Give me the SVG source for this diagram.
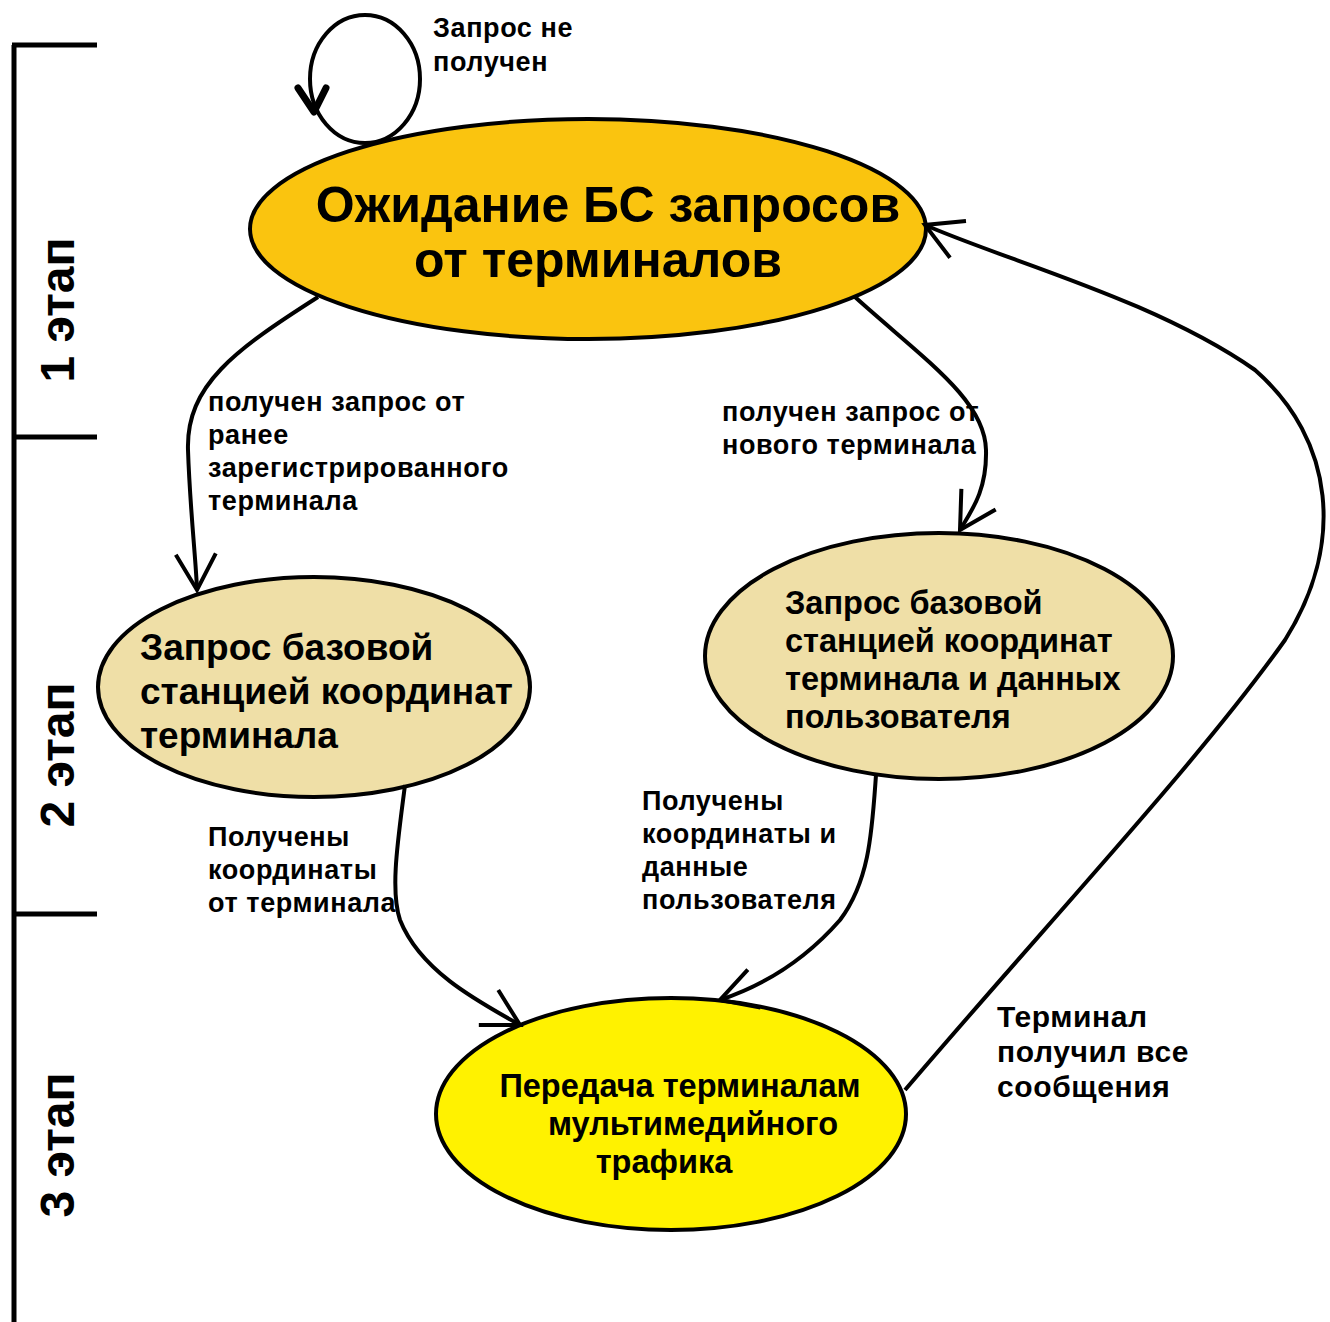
<svg xmlns="http://www.w3.org/2000/svg" width="1330" height="1322" viewBox="0 0 1330 1322">
<style>
text{font-family:"Liberation Sans",Arial,sans-serif;font-weight:bold;fill:#000}
.node{stroke:#000;stroke-width:4}
.conn{fill:none;stroke:#000;stroke-width:4}
.lbl{font-size:27px;letter-spacing:0.6px}
.lbl2{font-size:30px;letter-spacing:0.6px}
.stage{font-size:48px}
.bar{stroke:#000;stroke-width:5;fill:none}
</style>
<defs>
<marker id="arr" viewBox="-45 -30 50 60" refX="0" refY="0" markerWidth="50" markerHeight="60" markerUnits="userSpaceOnUse" orient="auto">
<path d="M-36,-20 L0,0 L-36,20" fill="none" stroke="#000" stroke-width="4"/>
</marker>
</defs>
<rect width="1330" height="1322" fill="#fff"/>
<g id="stages">
<path class="bar" d="M14,45 V1322 M12,45 H97 M12,437 H97 M12,914 H97"/>
<text class="stage" transform="translate(74,310) rotate(-90)" text-anchor="middle">1 этап</text>
<text class="stage" transform="translate(74,755) rotate(-90)" text-anchor="middle">2 этап</text>
<text class="stage" transform="translate(74,1145) rotate(-90)" text-anchor="middle">3 этап</text>
</g>
<g id="node-wait">
<ellipse class="node" cx="588" cy="229" rx="338" ry="110" fill="#FAC40F"/>
<text font-size="50" x="608" y="222" text-anchor="middle">Ожидание БС запросов</text>
<text font-size="50" x="598" y="277" text-anchor="middle">от терминалов</text>
</g>
<g id="node-coords">
<ellipse class="node" cx="314" cy="687" rx="216" ry="110" fill="#EFDFA7"/>
<text font-size="37" x="140" y="660">Запрос базовой</text>
<text font-size="37" x="140" y="704">станцией координат</text>
<text font-size="37" x="140" y="748">терминала</text>
</g>
<g id="node-coords-data">
<ellipse class="node" cx="939" cy="656" rx="234" ry="123" fill="#EFDFA7"/>
<text font-size="32.5" x="785" y="614">Запрос базовой</text>
<text font-size="32.5" x="785" y="652">станцией координат</text>
<text font-size="32.5" x="785" y="690">терминала и данных</text>
<text font-size="32.5" x="785" y="728">пользователя</text>
</g>
<g id="node-traffic">
<ellipse class="node" cx="671" cy="1114" rx="235" ry="116" fill="#FFF200"/>
<text font-size="32.5" x="680" y="1097" text-anchor="middle">Передача терминалам</text>
<text font-size="32.5" x="693" y="1135" text-anchor="middle">мультимедийного</text>
<text font-size="32.5" x="664" y="1173" text-anchor="middle">трафика</text>
</g>
<g id="connectors">
<ellipse class="conn" cx="365" cy="79" rx="55" ry="64"/>
<polyline points="298,88 314,112 326,88" fill="none" stroke="#000" stroke-width="7" stroke-linecap="round" stroke-linejoin="round"/>
<path class="conn" marker-end="url(#arr)" d="M318,297 C235,350 186,385 188,450 C190,510 196,560 197,590"/>
<path class="conn" marker-end="url(#arr)" d="M855,297 C925,360 985,400 986,450 C987,490 972,510 960,530"/>
<path class="conn" marker-end="url(#arr)" d="M405,785 C398,840 390,890 400,920 C420,970 475,1000 520,1025"/>
<path class="conn" marker-end="url(#arr)" d="M876,775 C872,830 870,880 840,920 C805,960 765,985 720,1000"/>
<path class="conn" marker-end="url(#arr)" d="M905,1090 C1050,920 1200,760 1285,640 C1345,545 1335,440 1255,370 C1155,300 1010,262 925,225"/>
</g>
<g id="labels">
<text class="lbl" x="433" y="37">Запрос не</text>
<text class="lbl" x="433" y="71">получен</text>
<text class="lbl" x="208" y="411">получен запрос от</text>
<text class="lbl" x="208" y="444">ранее</text>
<text class="lbl" x="208" y="477">зарегистрированного</text>
<text class="lbl" x="208" y="510">терминала</text>
<text class="lbl" x="722" y="421">получен запрос от</text>
<text class="lbl" x="722" y="454">нового терминала</text>
<text class="lbl" x="208" y="846">Получены</text>
<text class="lbl" x="208" y="879">координаты</text>
<text class="lbl" x="208" y="912">от терминала</text>
<text class="lbl" x="642" y="810">Получены</text>
<text class="lbl" x="642" y="843">координаты и</text>
<text class="lbl" x="642" y="876">данные</text>
<text class="lbl" x="642" y="909">пользователя</text>
<text class="lbl2" x="997" y="1027">Терминал</text>
<text class="lbl2" x="997" y="1062">получил все</text>
<text class="lbl2" x="997" y="1097">сообщения</text>
</g>
</svg>
